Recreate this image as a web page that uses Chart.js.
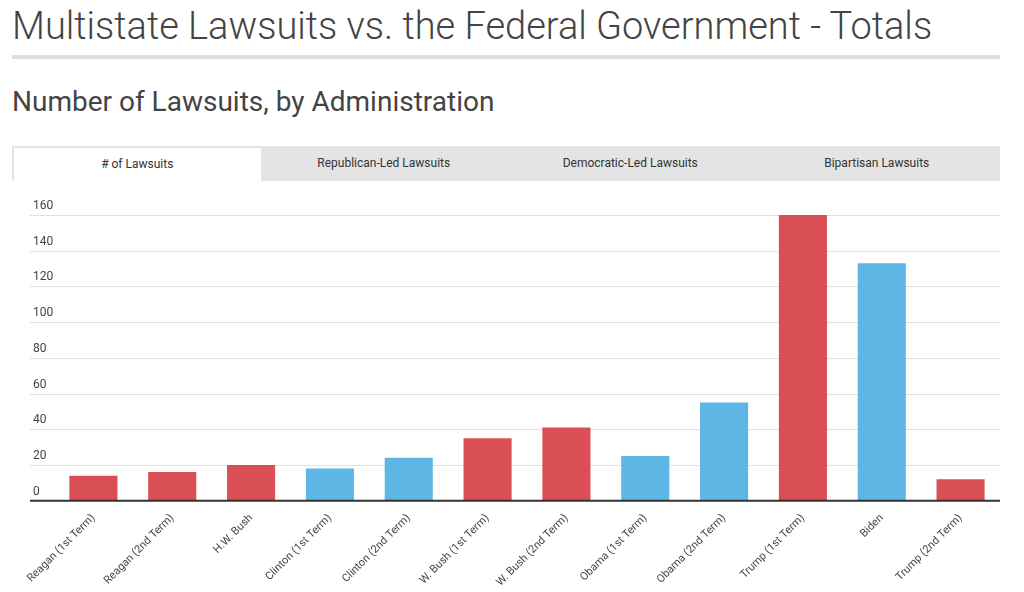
<!DOCTYPE html>
<html><head><meta charset="utf-8">
<script src="https://cdn.jsdelivr.net/npm/chart.js@4"></script>
<style>
body{margin:0;background:#fff;font-family:Roboto,sans-serif;color:#444;width:1024px;height:592px;overflow:hidden;position:relative}
h1{position:absolute;left:12px;top:4px;margin:0;font-weight:300;font-size:38px;color:#444}
.rule{position:absolute;left:12px;top:55px;width:988px;height:4px;background:#ddd}
h2{position:absolute;left:12px;top:85px;margin:0;font-weight:400;font-size:28px;color:#444}
.tabs{position:absolute;left:12px;top:146px;width:988px;height:35px;background:#e4e4e4;display:flex;font-size:12px;color:#333}
.tabs div{flex:1;text-align:center;line-height:35px}
.tabs .on{background:#fff;margin:2px 0 0 2px;line-height:33px}
#wrap{position:absolute;left:0;top:186px;width:1024px;height:406px}
</style></head><body>
<h1>Multistate Lawsuits vs. the Federal Government - Totals</h1>
<div class="rule"></div>
<h2>Number of Lawsuits, by Administration</h2>
<div class="tabs"><div class="on"># of Lawsuits</div><div>Republican-Led Lawsuits</div><div>Democratic-Led Lawsuits</div><div>Bipartisan Lawsuits</div></div>
<div id="wrap"><canvas id="c"></canvas></div>
<script>
const administrations = ['Reagan (1st Term)','Reagan (2nd Term)','H.W. Bush','Clinton (1st Term)','Clinton (2nd Term)','W. Bush (1st Term)','W. Bush (2nd Term)','Obama (1st Term)','Obama (2nd Term)','Trump (1st Term)','Biden','Trump (2nd Term)'];
const lawsuits = [14,16,20,18,24,35,41,25,55,160,133,12];
const party = ['R','R','R','D','D','R','R','D','D','R','D','R'];
const yTicks = [0,20,40,60,80,100,120,140,160];

const RED = '#d94f54', BLUE = '#5db6e4';

const gridPlugin = {
  id: 'ownGrid',
  beforeDatasetsDraw(chart) {
    const c = chart.ctx, y = chart.scales.y, a = chart.chartArea;
    c.save();
    c.font = '12px Roboto';
    c.textBaseline = 'bottom';
    yTicks.forEach(v => {
      const py = Math.round(y.getPixelForValue(v)) + 0.5;
      if (v > 0) {
        c.strokeStyle = '#e0e0e0'; c.lineWidth = 1;
        c.beginPath(); c.moveTo(30, py); c.lineTo(a.right, py); c.stroke();
      }
      c.fillStyle = '#444';
      c.fillText(v, 33, py - 4);
    });
    c.restore();
  },
  afterDatasetsDraw(chart) {
    const c = chart.ctx, a = chart.chartArea;
    c.save();
    c.strokeStyle = '#333'; c.lineWidth = 2;
    c.beginPath(); c.moveTo(30, a.bottom); c.lineTo(a.right, a.bottom); c.stroke();
    c.restore();
  }
};

new Chart(document.getElementById('c'), {
  type: 'bar',
  data: {
    labels: administrations,
    datasets: [{
      data: lawsuits,
      backgroundColor: party.map(p => p === 'R' ? RED : BLUE),
      barPercentage: 0.61,
      categoryPercentage: 1
    }]
  },
  options: {
    responsive: true,
    maintainAspectRatio: false,
    animation: false,
    layout: { padding: { left: 54, right: 24, top: 29 } },
    plugins: { legend: { display: false }, tooltip: { enabled: false } },
    scales: {
      x: {
        grid: { display: false },
        border: { display: false },
        ticks: { color: '#444', font: { family: 'Roboto', size: 11 }, minRotation: 45, maxRotation: 45, autoSkip: false }
      },
      y: {
        display: false,
        min: 0, max: 160
      }
    }
  },
  plugins: [gridPlugin]
});
</script>
</body></html>
